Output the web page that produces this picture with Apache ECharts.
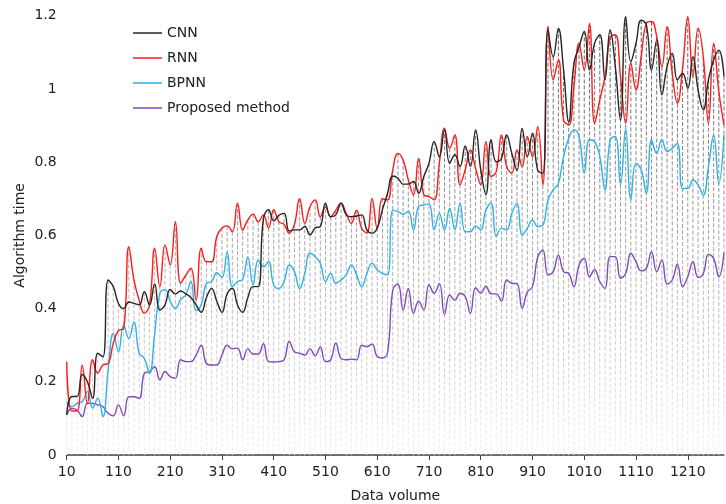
<!DOCTYPE html>
<html><head><meta charset="utf-8">
<script src="https://cdn.jsdelivr.net/npm/echarts@6/dist/echarts.min.js"></script>
<style>html,body{margin:0;padding:0;background:#fff}#c{width:726px;height:504px}</style>
</head><body><div id="c"></div>
<script>
const categories = [10,20,30,40,50,60,70,80,90,100,110,120,130,140,150,160,170,180,190,200,
210,220,230,240,250,260,270,280,290,300,310,320,330,340,350,360,370,380,390,400,
410,420,430,440,450,460,470,480,490,500,510,520,530,540,550,560,570,580,590,600,
610,620,630,640,650,660,670,680,690,700,710,720,730,740,750,760,770,780,790,800,
810,820,830,840,850,860,870,880,890,900,910,920,930,940,950,960,970,980,990,1000,
1010,1020,1030,1040,1050,1060,1070,1080,1090,1100,1110,1120,1130,1140,1150,1160,1170,1180,1190,1200,
1210,1220,1230,1240,1250,1260,1270,1280];

const cnn = [0.11,0.16,0.16,0.22,0.20,0.155,0.278,0.268,0.478,0.46,
0.414,0.40,0.418,0.414,0.41,0.446,0.41,0.467,0.396,0.41,
0.452,0.44,0.448,0.44,0.43,0.41,0.39,0.43,0.455,0.42,
0.39,0.44,0.455,0.41,0.39,0.43,0.46,0.46,0.645,0.67,
0.64,0.655,0.66,0.612,0.615,0.615,0.624,0.601,0.62,0.624,
0.688,0.651,0.656,0.688,0.656,0.651,0.653,0.656,0.615,0.606,
0.62,0.67,0.715,0.762,0.756,0.74,0.74,0.747,0.715,0.761,
0.797,0.856,0.815,0.888,0.797,0.82,0.788,0.844,0.788,0.888,
0.779,0.711,0.861,0.801,0.81,0.874,0.824,0.778,0.892,0.815,
0.879,0.778,0.77,1.161,1.088,1.165,1.052,0.91,1.07,1.115,
1.157,1.052,1.125,1.148,1.025,1.161,1.061,0.915,1.197,1.075,
1.125,1.188,1.175,1.052,1.134,0.984,1.061,1.097,1.025,1.043,
1.002,1.088,0.997,0.943,1.025,1.079,1.106,1.034];

const rnn = [0.255,0.12,0.12,0.245,0.14,0.26,0.224,0.246,0.25,0.305,
0.34,0.345,0.569,0.478,0.423,0.387,0.41,0.565,0.46,0.574,
0.52,0.637,0.469,0.491,0.51,0.423,0.565,0.528,0.528,0.597,
0.62,0.626,0.61,0.688,0.615,0.642,0.658,0.637,0.656,0.62,
0.67,0.637,0.63,0.606,0.63,0.70,0.633,0.678,0.697,0.651,
0.678,0.651,0.669,0.688,0.66,0.633,0.669,0.619,0.606,0.701,
0.619,0.70,0.697,0.779,0.824,0.806,0.752,0.711,0.81,0.711,
0.706,0.697,0.797,0.893,0.838,0.874,0.738,0.779,0.833,0.783,
0.738,0.856,0.761,0.774,0.874,0.788,0.77,0.833,0.788,0.87,
0.815,0.897,0.738,1.17,1.025,1.079,0.915,0.902,1.006,1.125,
1.052,1.179,0.906,0.97,1.034,1.14,1.148,1.034,0.906,1.07,
0.997,1.088,1.179,1.184,1.143,1.061,1.17,1.043,0.961,1.057,
1.197,1.034,1.166,1.088,0.906,1.125,0.993,0.902];

const bpnn = [0.146,0.132,0.141,0.146,0.173,0.128,0.155,0.105,0.232,0.332,
0.282,0.355,0.318,0.364,0.278,0.264,0.223,0.332,0.442,0.451,
0.42,0.40,0.425,0.437,0.474,0.394,0.41,0.469,0.474,0.498,
0.485,0.553,0.46,0.474,0.48,0.54,0.464,0.532,0.514,0.528,
0.464,0.455,0.474,0.519,0.501,0.455,0.496,0.551,0.542,0.524,
0.474,0.496,0.469,0.478,0.492,0.519,0.492,0.46,0.496,0.524,
0.506,0.496,0.492,0.669,0.665,0.658,0.665,0.615,0.679,0.683,
0.686,0.615,0.66,0.615,0.674,0.615,0.688,0.61,0.61,0.626,
0.615,0.669,0.688,0.597,0.619,0.615,0.66,0.688,0.6,0.619,
0.642,0.624,0.628,0.697,0.724,0.742,0.815,0.865,0.888,0.87,
0.77,0.861,0.856,0.815,0.724,0.861,0.87,0.738,0.893,0.697,
0.797,0.779,0.715,0.861,0.824,0.861,0.829,0.838,0.851,0.728,
0.728,0.751,0.738,0.71,0.788,0.874,0.742,0.874];

const proposed = [0.109,0.127,0.123,0.105,0.141,0.141,0.137,0.132,0.114,0.107,
0.137,0.107,0.159,0.159,0.155,0.223,0.228,0.241,0.205,0.228,
0.214,0.21,0.26,0.255,0.255,0.273,0.30,0.25,0.246,0.246,
0.273,0.30,0.29,0.292,0.26,0.29,0.276,0.276,0.304,0.255,
0.254,0.255,0.26,0.31,0.282,0.278,0.273,0.29,0.271,0.295,
0.255,0.26,0.306,0.264,0.26,0.262,0.26,0.30,0.296,0.303,
0.269,0.265,0.28,0.451,0.467,0.396,0.455,0.387,0.42,0.396,
0.465,0.442,0.468,0.384,0.437,0.423,0.442,0.433,0.387,0.457,
0.442,0.461,0.44,0.44,0.42,0.478,0.469,0.468,0.401,0.445,
0.46,0.54,0.56,0.492,0.501,0.546,0.501,0.496,0.46,0.519,
0.537,0.487,0.506,0.474,0.455,0.542,0.542,0.483,0.496,0.551,
0.528,0.503,0.51,0.555,0.501,0.533,0.467,0.478,0.521,0.46,
0.487,0.528,0.485,0.496,0.548,0.537,0.487,0.553];

const seriesNames = ['CNN','RNN','BPNN','Proposed method'];
const seriesColors = ['#262626','#ff1a1a','#2cb3e8','#7f4bbd'];
const seriesData = [cnn, rnn, bpnn, proposed];

const FONT = '"DejaVu Sans", Verdana, sans-serif';
const chart = echarts.init(document.getElementById('c'), null, {renderer:'canvas'});

const dropData = categories.map((c, i) => [i, Math.max(cnn[i], rnn[i], bpnn[i], proposed[i])]);

function renderDrop(params, api) {
  const i = api.value(0), v = api.value(1);
  const top = api.coord([i, v]);
  const bot = api.coord([i, 0]);
  const yMaxPx = api.coord([i, 1.2])[1];
  return {
    type: 'line',
    shape: {x1: top[0], y1: top[1], x2: bot[0], y2: bot[1]},
    style: {
      stroke: new echarts.graphic.LinearGradient(0, yMaxPx, 0, bot[1],
        [{offset: 0, color: '#555555'}, {offset: 1, color: '#f3f3f3'}], true),
      lineWidth: 1,
      lineDash: [4, 2]
    }
  };
}

const option = {
  animation: false,
  textStyle: {fontFamily: FONT},
  grid: {left: 66.7, right: 2, top: 15.7, bottom: 49, containLabel: false, outerBoundsMode: 'none'},
  legend: {
    data: seriesNames,
    orient: 'vertical',
    left: 133, top: 26, padding: 0,
    icon: 'rect',
    itemWidth: 29, itemHeight: 1.5, itemGap: 11,
    textStyle: {fontFamily: FONT, fontSize: 14, lineHeight: 14, color: '#222'}
  },
  xAxis: {
    type: 'category', data: categories, boundaryGap: false,
    name: 'Data volume', nameLocation: 'middle', nameGap: 34,
    nameTextStyle: {fontFamily: FONT, fontSize: 14, color: '#222'},
    axisLine: {lineStyle: {color: '#404040', width: 1.5}},
    axisTick: {interval: 9, length: 5, lineStyle: {color: '#404040', width: 1}},
    axisLabel: {interval: 9, margin: 10, fontFamily: FONT, fontSize: 14, color: '#222'},
    splitLine: {show: false}
  },
  yAxis: {
    type: 'value', min: 0, max: 1.2, interval: 0.2,
    name: 'Algorithm time', nameLocation: 'middle', nameGap: 39, nameMoveOverlap: false,
    nameTextStyle: {fontFamily: FONT, fontSize: 14, color: '#222'},
    axisLine: {show: false}, axisTick: {show: false}, splitLine: {show: false},
    axisLabel: {margin: 10, fontFamily: FONT, fontSize: 14, color: '#222'}
  },
  series: [
    {type: 'custom', name: 'drop', renderItem: renderDrop, data: dropData, z: 1, silent: true,
     encode: {x: 0, y: 1}}
  ].concat(seriesNames.map((n, k) => ({
    type: 'line', name: n, data: seriesData[k], smooth: 0.45, symbol: 'none', z: 3 + (3 - k),
    lineStyle: {color: seriesColors[k], width: 1.4}, itemStyle: {color: seriesColors[k]}
  })))
};
chart.setOption(option);
</script>
</body></html>
